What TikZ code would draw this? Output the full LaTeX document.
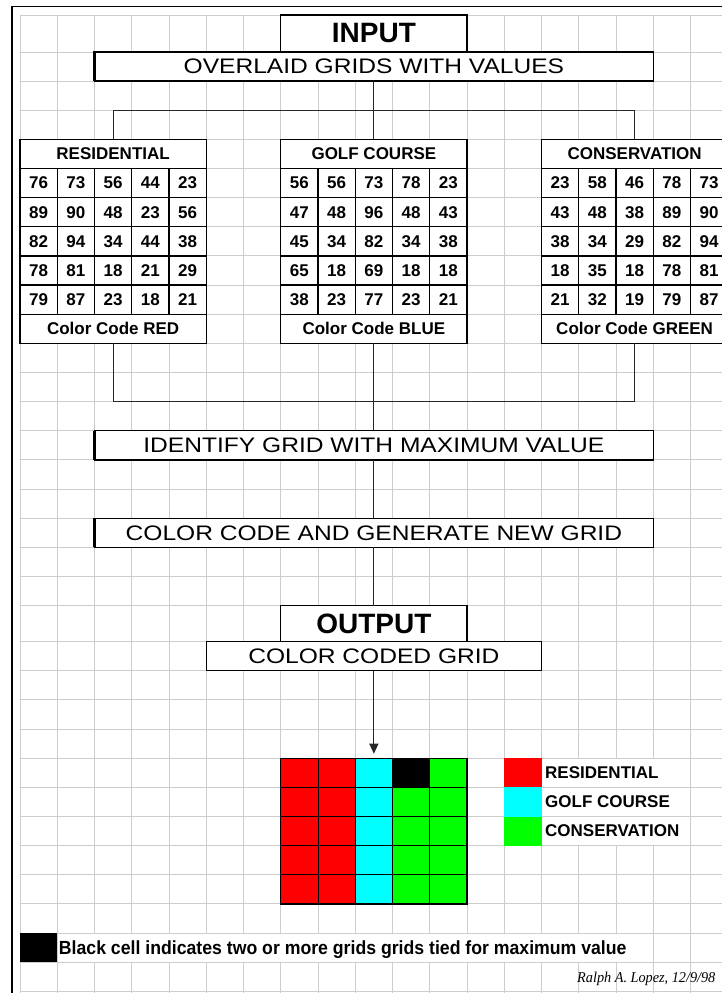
\documentclass[tikz,border=0pt]{standalone}
\usepackage{fontspec}
\setmainfont{Liberation Sans}
\newfontfamily\stepfont[FakeStretch=1.17]{Liberation Sans}
\newfontfamily\notefont[FakeStretch=0.93]{Liberation Sans}
\newfontfamily\sigfont[FakeStretch=0.95]{Liberation Serif}
\usetikzlibrary{arrows.meta}

\definecolor{gridgray}{RGB}{205,205,205}
\definecolor{xred}{RGB}{255,0,0}
\definecolor{xcyan}{RGB}{0,255,255}
\definecolor{xgreen}{RGB}{0,255,0}

% column / row boundary positions (in px = pt)
\newcommand\gx[1]{(20+37.25*(#1))}
\newcommand\gy[1]{ifthenelse((#1)<1,15,ifthenelse((#1)<21,52+29.14*((#1)-1),641.66+29.14*((#1)-21)))}

% a node covering columns #2..#3 and rows #4..#5
\newcommand\cellbox[7]{%
  \pgfmathsetmacro\bxl{\gx{#2}}%
  \pgfmathsetmacro\bxr{\gx{#3}}%
  \pgfmathsetmacro\byt{\gy{#4}}%
  \pgfmathsetmacro\byb{\gy{#5}}%
  \pgfmathsetmacro\bxw{\bxr-\bxl}%
  \pgfmathsetmacro\byh{\byb-\byt}%
  \pgfmathsetmacro\bxc{(\bxl+\bxr)/2}%
  \pgfmathsetmacro\byc{(\byt+\byb)/2}%
  \node[#6, minimum width=\bxw pt, minimum height=\byh pt] (#1) at (\bxc,\byc) {#7};%
}

% white mask hiding vertical gridlines under overflowing text
\newcommand\maskcells[4]{%
  \pgfmathsetmacro\mxl{\gx{#1}+0.7}%
  \pgfmathsetmacro\mxr{\gx{#2}-0.7}%
  \pgfmathsetmacro\myt{\gy{#3}+0.7}%
  \pgfmathsetmacro\myb{\gy{#4}-0.7}%
  \fill[white] (\mxl,\myt) rectangle (\mxr,\myb);%
}

\newcommand\datatable[5]{%
  \cellbox{#1h}{#2}{#2+5}{4}{5}{tcell}{#4}
  \foreach \row [count=\i from 5] in {#3} {
    \foreach \v [count=\j from 0] in \row {
      \cellbox{#1-\i-\j}{#2+\j}{#2+\j+1}{\i}{\i+1}{tcell}{\v}
    }
  }
  \cellbox{#1f}{#2}{#2+5}{10}{11}{tcell}{#5}
}

\tikzset{
  gline/.style={draw=gridgray, line width=1pt},
  frame/.style={draw=black, line width=1.3pt},
  boxbase/.style={draw=black, fill=white, line width=1.3pt, inner sep=0pt, outer sep=0pt, align=center},
  titlebox/.style={boxbase, font=\fontsize{28}{30}\selectfont\bfseries},
  stepbox/.style={boxbase, font=\stepfont\fontsize{21}{24}\selectfont},
  tcell/.style={boxbase, font=\fontsize{17}{19}\selectfont\bfseries},
  ocell/.style={draw=black, line width=1pt, inner sep=0pt, outer sep=0pt},
  swatch/.style={inner sep=0pt, outer sep=0pt},
  legtext/.style={inner sep=0pt, font=\fontsize{17}{19}\selectfont\bfseries},
  notetext/.style={inner sep=0pt, font=\notefont\bfseries\fontsize{19}{21}\selectfont},
  sigtext/.style={inner sep=0pt, font=\sigfont\itshape\fontsize{15}{17}\selectfont},
  conn/.style={draw=black!85, line width=1.1pt},
  thickedge/.style={draw=black, line width=2.6pt},
}

\begin{document}
\begin{tikzpicture}[x=1pt,y=-1pt]
\useasboundingbox (0,0) rectangle (722,993);
\clip (0,0) rectangle (722,993);
\fill[white] (0,0) rectangle (722,993);

% spreadsheet grid
\foreach \k in {0,...,18} {\pgfmathsetmacro\xx{\gx{\k}} \draw[gline] (\xx,15) -- (\xx,993);}
\foreach \k in {0,...,33} {\pgfmathsetmacro\yy{\gy{\k}} \draw[gline] (20,\yy) -- (722,\yy);}

% outer frame
\draw[frame] (722,6.5) -- (12,6.5) -- (12,993);

% title and step boxes
\cellbox{input}{7}{12}{0}{1}{titlebox}{INPUT}
\cellbox{overlaid}{2}{17}{1}{2}{stepbox}{OVERLAID GRIDS WITH VALUES}
\draw[thickedge] (overlaid.south west) -- (overlaid.north west) -- (overlaid.north east);

% input tables
\datatable{res}{0}{{76,73,56,44,23},{89,90,48,23,56},{82,94,34,44,38},{78,81,18,21,29},{79,87,23,18,21}}{RESIDENTIAL}{Color Code RED}
\datatable{golf}{7}{{56,56,73,78,23},{47,48,96,48,43},{45,34,82,34,38},{65,18,69,18,18},{38,23,77,23,21}}{GOLF COURSE}{Color Code BLUE}
\datatable{con}{14}{{23,58,46,78,73},{43,48,38,89,90},{38,34,29,82,94},{18,35,18,78,81},{21,32,19,79,87}}{CONSERVATION}{Color Code GREEN}

% process boxes
\cellbox{identify}{2}{17}{14}{15}{stepbox}{IDENTIFY GRID WITH MAXIMUM VALUE}
\draw[thickedge] (identify.south west) -- (identify.north west);
\cellbox{colorcode}{2}{17}{17}{18}{stepbox}{COLOR CODE AND GENERATE NEW GRID}
\draw[thickedge] (colorcode.south west) -- (colorcode.north west);
\cellbox{output}{7}{12}{20}{21}{titlebox}{OUTPUT}
\cellbox{coded}{5}{14}{21}{22}{stepbox}{COLOR CODED GRID}

% output grid
\foreach \row [count=\i from 25] in {{xred,xred,xcyan,black,xgreen},{xred,xred,xcyan,xgreen,xgreen},{xred,xred,xcyan,xgreen,xgreen},{xred,xred,xcyan,xgreen,xgreen},{xred,xred,xcyan,xgreen,xgreen}} {
  \foreach \cl [count=\j from 7] in \row {
    \cellbox{out-\i-\j}{\j}{\j+1}{\i}{\i+1}{ocell, fill=\cl}{}
  }
}
\draw[black, line width=1.3pt] (out-25-7.north west) rectangle (out-29-11.south east);

% connectors: top tree
\pgfmathsetmacro\ya{\gy{3}}
\pgfmathsetmacro\yb{\gy{13}}
\coordinate (tL) at ({\gx{2.5}},\ya);
\coordinate (tJ) at ({\gx{9.5}},\ya);
\coordinate (tR) at ({\gx{16.5}},\ya);
\draw[conn] (overlaid.south) -- (tJ);
\draw[conn] (tL) -- (tR);
\draw[conn] (tL) -- (resh.north);
\draw[conn] (tJ) -- (golfh.north);
\draw[conn] (tR) -- (conh.north);
% bottom tree
\coordinate (bL) at ({\gx{2.5}},\yb);
\coordinate (bR) at ({\gx{16.5}},\yb);
\draw[conn] (resf.south) -- (bL) -- (bR) -- (conf.south);
\draw[conn] (golff.south) -- (identify.north);
\draw[conn] (identify.south) -- (colorcode.north);
\draw[conn] (colorcode.south) -- (output.north);
\draw[conn, -{Triangle[width=9pt,length=10pt]}, shorten >=4.5pt] (coded.south) -- (out-25-9.north);

% legend
\foreach \cl/\lab/\nm [count=\i from 25] in {xred/RESIDENTIAL/res, xcyan/GOLF COURSE/golf, xgreen/CONSERVATION/con} {
  \cellbox{lg-\nm}{13}{14}{\i}{\i+1}{swatch, fill=\cl}{}
  \maskcells{14}{18}{\i}{\i+1}
  \node[legtext, anchor=west] (lgt-\nm) at ({\gx{14}+3.5},{(\myt+\myb)/2}) {\lab};
}

% note
\cellbox{notesw}{0}{1}{31}{32}{swatch, fill=black}{}
\maskcells{1}{17}{31}{32}
\node[notetext, anchor=base west] (note) at ({\gx{1}+1.5},954.5) {Black cell indicates two or more grids grids tied for maximum value};

% signature
\node[sigtext, anchor=base west] (sig) at (577,982) {Ralph A. Lopez, 12/9/98};
\end{tikzpicture}
\end{document}
